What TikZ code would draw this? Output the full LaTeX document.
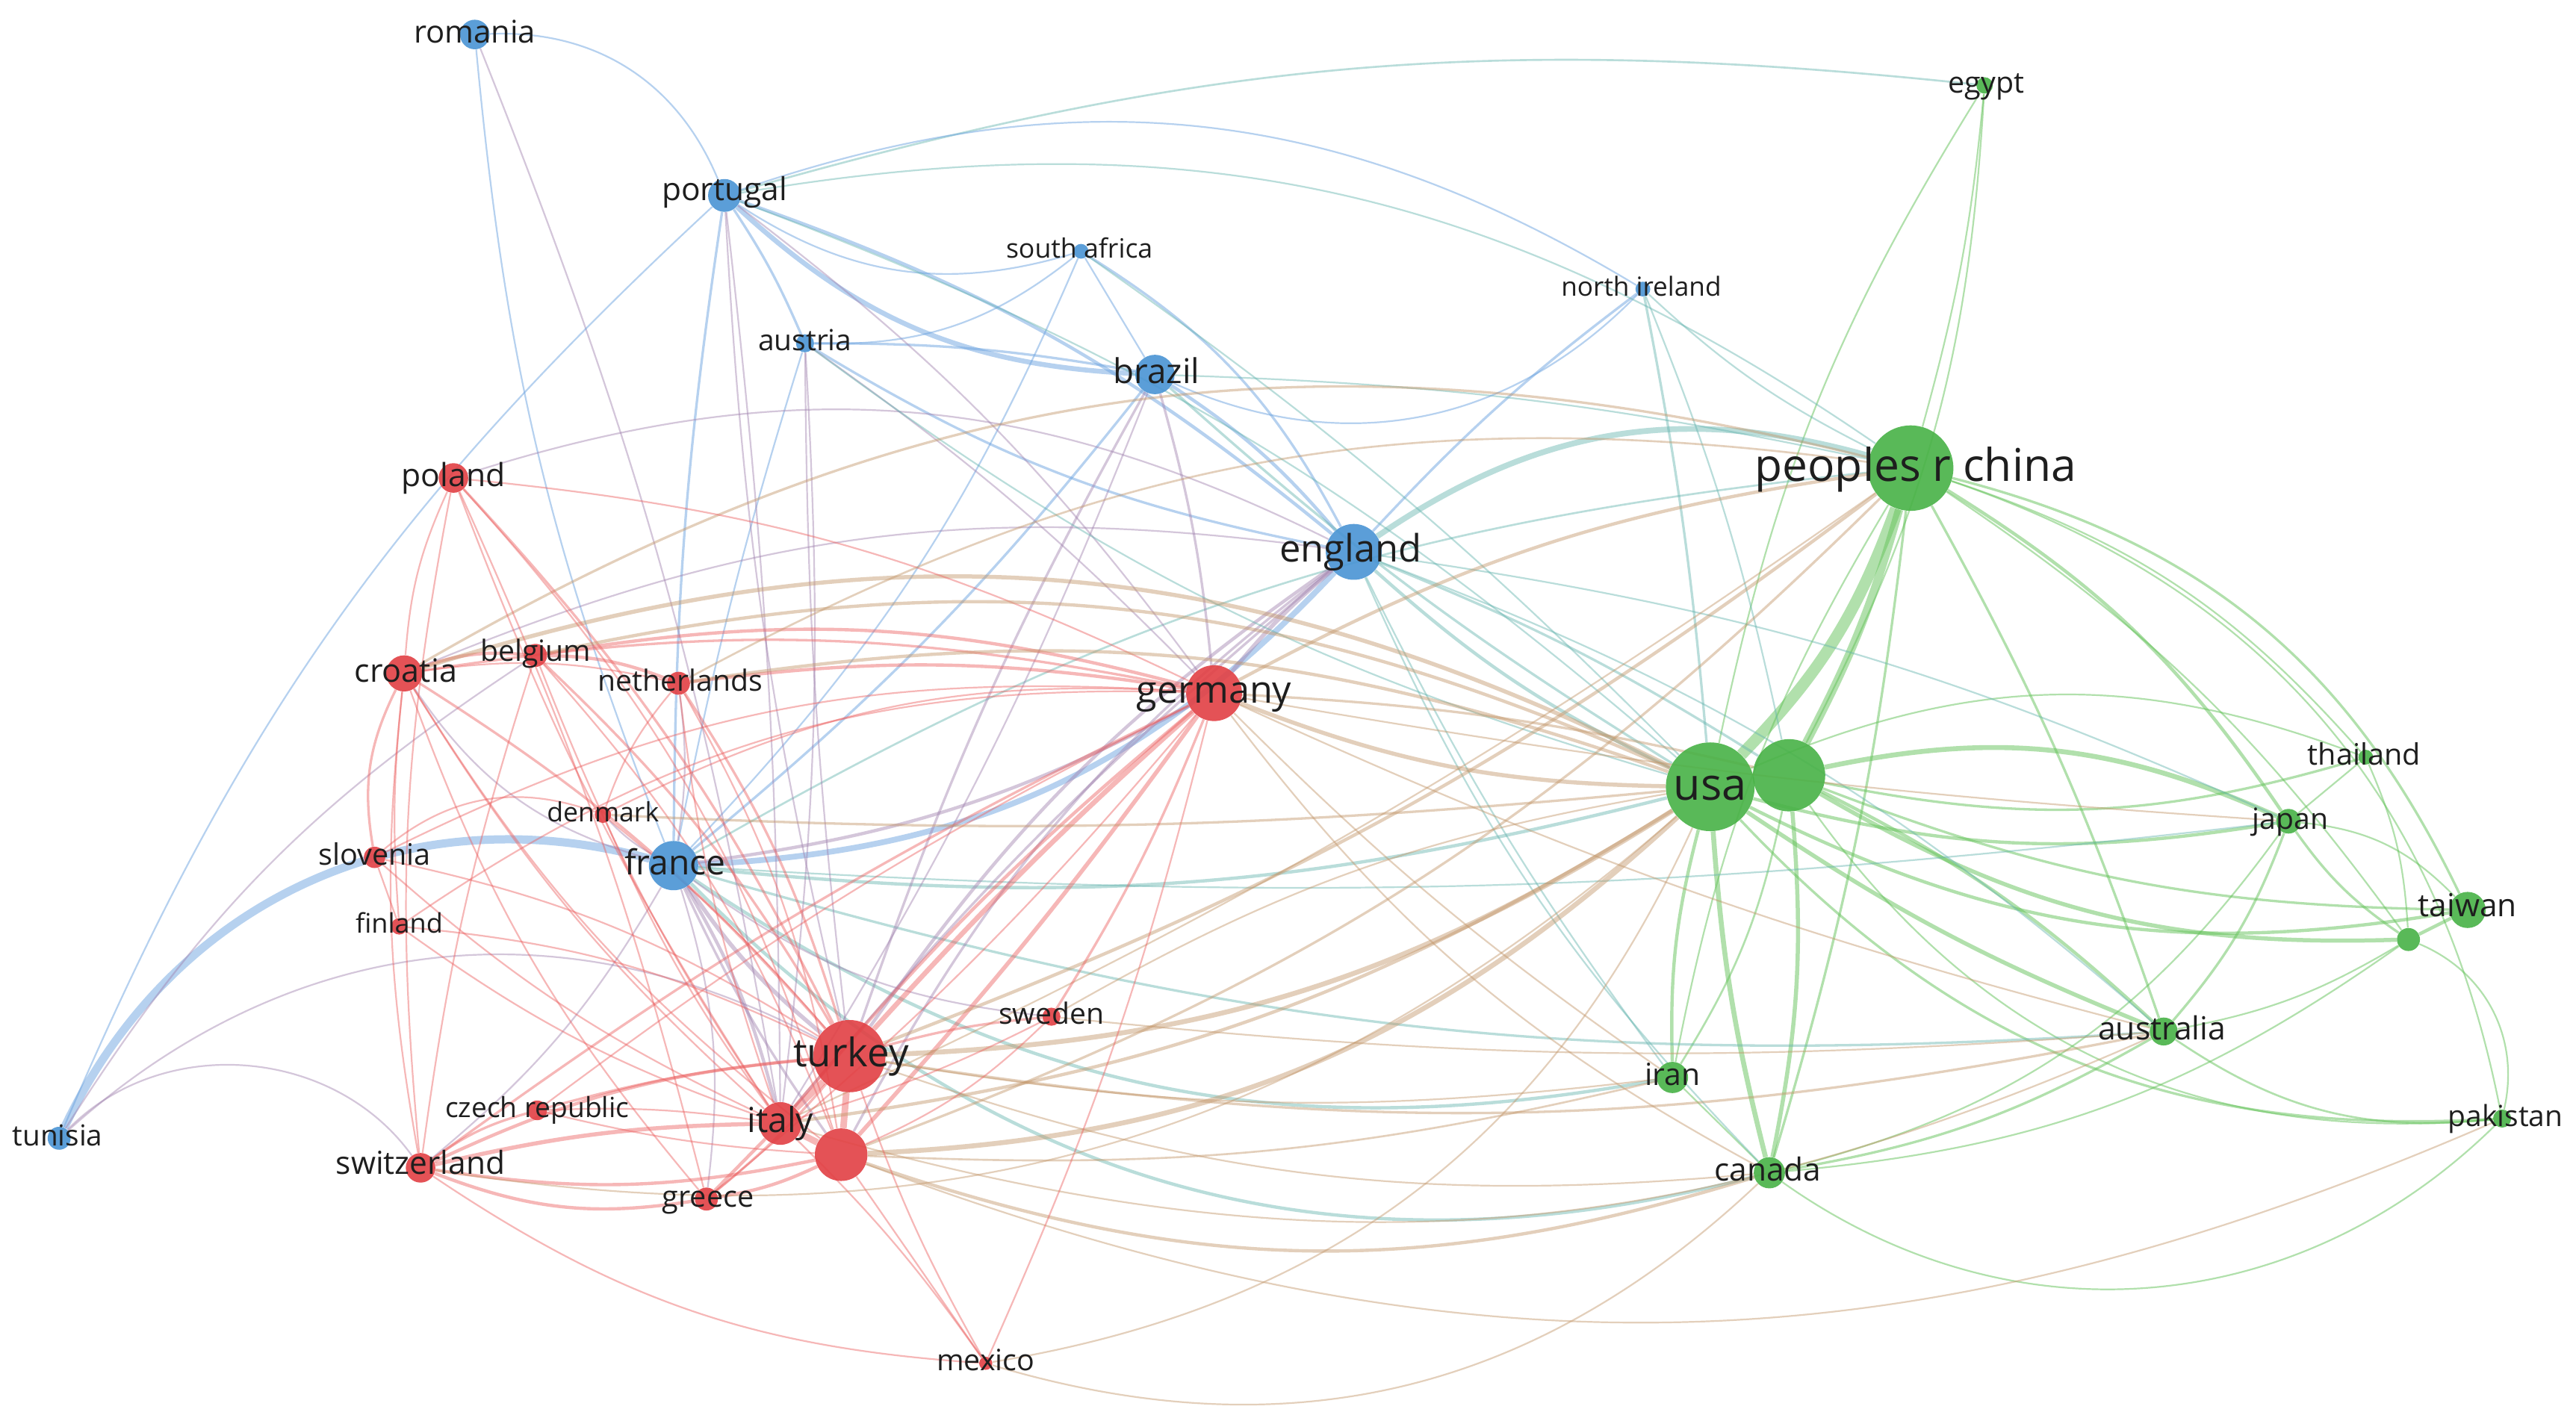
\documentclass[tikz,border=0pt]{standalone}
\usepackage{fontspec}
\setmainfont{Open Sans}
\begin{document}
\pgfdeclarelayer{bg}
\pgfdeclarelayer{paper}
\pgfsetlayers{paper,bg,main}
\definecolor{cR}{RGB}{226,64,68}
\definecolor{cB}{RGB}{74,148,212}
\definecolor{cG}{RGB}{72,178,70}
\definecolor{eR}{RGB}{236,96,96}
\definecolor{eB}{RGB}{110,165,225}
\definecolor{eG}{RGB}{100,195,90}
\definecolor{eRB}{RGB}{160,130,175}
\definecolor{eRG}{RGB}{195,150,105}
\definecolor{eBG}{RGB}{100,180,175}
\definecolor{txt}{RGB}{30,30,30}
\begin{tikzpicture}[x=1pt,y=-1pt,
  nd/.style={circle,inner sep=0pt,fill opacity=0.9,draw=none},
  rn/.style={nd,fill=cR}, bn/.style={nd,fill=cB}, gn/.style={nd,fill=cG},
  lab/.style={font=\fontsize{#1pt}{#1pt}\selectfont,text=txt,inner sep=0pt,
    text height={0.74*#1pt},text depth={0.22*#1pt}},
  er/.style={draw=eR,draw opacity=0.45},
  eb/.style={draw=eB,draw opacity=0.5},
  eg/.style={draw=eG,draw opacity=0.5},
  erb/.style={draw=eRB,draw opacity=0.45},
  erg/.style={draw=eRG,draw opacity=0.45},
  ebg/.style={draw=eBG,draw opacity=0.45}]
\begin{pgfonlayer}{paper}
\fill[white] (0,0) rectangle (1568,865);
\end{pgfonlayer}
\useasboundingbox (0,0) rectangle (1568,865);
% nodes
\node[bn,minimum size=18pt] (romania) at (289,21) {};
\node[bn,minimum size=20pt] (portugal) at (441,119) {};
\node[bn,minimum size=9pt] (southafrica) at (658,153) {};
\node[bn,minimum size=9pt] (northireland) at (1000,176) {};
\node[bn,minimum size=11pt] (austria) at (490,209) {};
\node[bn,minimum size=24pt] (brazil) at (703,228) {};
\node[gn,minimum size=10pt] (egypt) at (1208,52) {};
\node[gn,minimum size=52pt] (china) at (1163,285) {};
\node[bn,minimum size=34pt] (england) at (824,336) {};
\node[rn,minimum size=18pt] (poland) at (276,291) {};
\node[rn,minimum size=22pt] (croatia) at (246,410) {};
\node[rn,minimum size=14pt] (belgium) at (326,399) {};
\node[rn,minimum size=14pt] (netherlands) at (413,416) {};
\node[rn,minimum size=34pt] (germany) at (739,422) {};
\node[gn,minimum size=54pt] (usa) at (1041,479) {};
\node[gn,minimum size=44pt] (g2) at (1089,472) {};
\node[gn,minimum size=9pt] (thailand) at (1440,461) {};
\node[gn,minimum size=15pt] (japan) at (1393,500) {};
\node[gn,minimum size=22pt] (taiwan) at (1502,554) {};
\node[gn,minimum size=14pt] (g3) at (1466,572) {};
\node[gn,minimum size=11pt] (pakistan) at (1523,681) {};
\node[gn,minimum size=17pt] (australia) at (1317,628) {};
\node[gn,minimum size=19pt] (iran) at (1018,656) {};
\node[gn,minimum size=19pt] (canada) at (1077,714) {};
\node[rn,minimum size=10pt] (denmark) at (367,496) {};
\node[rn,minimum size=13pt] (slovenia) at (228,522) {};
\node[bn,minimum size=30pt] (france) at (410,527) {};
\node[rn,minimum size=10pt] (finland) at (243,564) {};
\node[rn,minimum size=11pt] (sweden) at (640,619) {};
\node[rn,minimum size=44pt] (turkey) at (517,643) {};
\node[rn,minimum size=26pt] (italy) at (475,684) {};
\node[rn,minimum size=32pt] (r2) at (512,703) {};
\node[rn,minimum size=12pt] (czech) at (327,676) {};
\node[bn,minimum size=14pt] (tunisia) at (36,693) {};
\node[rn,minimum size=18pt] (switzerland) at (256,711) {};
\node[rn,minimum size=14pt] (greece) at (430,730) {};
\node[rn,minimum size=8pt] (mexico) at (600,830) {};
\begin{pgfonlayer}{bg}
% green
\draw[eg,line width=7pt] (usa) to[bend right=12] (china);
\draw[eg,line width=5pt] (g2) to[bend right=6] (china);
\draw[eg,line width=4pt] (usa) -- (g2);
\draw[eg,line width=3pt] (g2) to[bend left=18] (japan);
\draw[eg,line width=2pt] (usa) to[bend right=12] (japan);
\draw[eg,line width=1.5pt] (g2) to[bend right=14] (thailand);
\draw[eg,line width=1pt] (usa) to[bend left=22] (thailand);
\draw[eg,line width=2.5pt] (g2) to[bend right=16] (g3);
\draw[eg,line width=2pt] (usa) to[bend right=18] (taiwan);
\draw[eg,line width=1.5pt] (g2) to[bend right=10] (taiwan);
\draw[eg,line width=2.5pt] (usa) to[bend right=6] (australia);
\draw[eg,line width=2pt] (g2) to[bend left=8] (australia);
\draw[eg,line width=3pt] (usa) to[bend right=5] (canada);
\draw[eg,line width=2.5pt] (g2) to[bend left=8] (canada);
\draw[eg,line width=2pt] (usa) to[bend right=8] (iran);
\draw[eg,line width=1.2pt] (g2) to[bend left=10] (iran);
\draw[eg,line width=1.5pt] (usa) to[bend right=25] (pakistan);
\draw[eg,line width=1pt] (g2) to[bend right=30] (pakistan);
\draw[eg,line width=2pt] (china) to[bend left=12] (japan);
\draw[eg,line width=1pt] (china) to[bend left=15] (thailand);
\draw[eg,line width=1.5pt] (china) to[bend left=25] (taiwan);
\draw[eg,line width=1pt] (china) to[bend left=10] (g3);
\draw[eg,line width=1.5pt] (china) to[bend left=5] (australia);
\draw[eg,line width=1pt] (china) to[bend left=30] (pakistan);
\draw[eg,line width=1.5pt] (china) to[bend left=5] (canada);
\draw[eg,line width=1pt] (china) to[bend right=10] (iran);
\draw[eg,line width=1pt] (egypt) to[bend right=10] (usa);
\draw[eg,line width=1pt] (egypt) to[bend left=5] (china);
\draw[eg,line width=1pt] (egypt) to[bend left=12] (g2);
\draw[ebg,line width=1.2pt] (egypt) to[bend right=11] (portugal);
\draw[eg,line width=1.5pt] (japan) to[bend left=10] (australia);
\draw[eg,line width=1.5pt] (japan) to[bend right=10] (g3);
\draw[eg,line width=1pt] (japan) to[bend left=20] (taiwan);
\draw[eg,line width=1pt] (thailand) to[bend left=10] (g3);
\draw[eg,line width=1pt] (thailand) -- (japan);
\draw[eg,line width=2pt] (g3) -- (taiwan);
\draw[eg,line width=1pt] (g3) to[bend left=10] (australia);
\draw[eg,line width=1.2pt] (australia) to[bend right=20] (pakistan);
\draw[eg,line width=1pt] (canada) to[bend right=40] (pakistan);
\draw[eg,line width=1.5pt] (canada) to[bend right=10] (australia);
\draw[eg,line width=1pt] (canada) to[bend right=15] (g3);
\draw[eg,line width=1pt] (canada) to[bend right=20] (japan);
\draw[eg,line width=1pt] (iran) -- (canada);
\draw[eg,line width=1pt] (g3) to[bend left=40] (pakistan);
% blue
\draw[eb,line width=5pt] (tunisia) to[bend left=40] (france);
\draw[eb,line width=3.5pt] (france) to[bend right=22] (england);
\draw[eb,line width=1.5pt] (france) to[bend left=4] (portugal);
\draw[eb,line width=1.5pt] (france) to[bend right=6] (brazil);
\draw[eb,line width=1pt] (france) to[bend left=3] (austria);
\draw[eb,line width=1pt] (france) to[bend left=8] (romania);
\draw[eb,line width=1pt] (france) to[bend right=10] (southafrica);
\draw[ebg,line width=2pt] (france) to[bend right=10] (usa);
\draw[ebg,line width=2pt] (france) to[bend right=30] (canada);
\draw[ebg,line width=2pt] (france) to[bend right=22] (iran);
\draw[ebg,line width=1.2pt] (france) to[bend left=12] (china);
\draw[ebg,line width=1.5pt] (france) to[bend right=10] (australia);
\draw[ebg,line width=1pt] (france) to[bend right=5] (japan);
\draw[erb,line width=2pt] (france) to[bend right=10] (germany);
\draw[erb,line width=2.5pt] (france) to[bend right=8] (turkey);
\draw[erb,line width=2pt] (france) to[bend left=8] (italy);
\draw[erb,line width=1.5pt] (france) to[bend right=5] (r2);
\draw[erb,line width=1pt] (france) to[bend left=12] (greece);
\draw[erb,line width=1pt] (france) to[bend left=10] (switzerland);
\draw[erb,line width=1pt] (france) to[bend right=8] (netherlands);
\draw[erb,line width=1pt] (france) to[bend left=8] (denmark);
\draw[erb,line width=1pt] (france) to[bend left=20] (croatia);
\draw[erb,line width=1pt] (france) to[bend right=15] (sweden);
\draw[ebg,line width=3.5pt] (england) to[bend left=25] (china);
\draw[ebg,line width=2pt] (england) to[bend right=8] (usa);
\draw[ebg,line width=1.5pt] (england) to[bend left=5] (g2);
\draw[eb,line width=2pt] (england) to[bend right=8] (brazil);
\draw[eb,line width=2pt] (portugal) to[bend left=10] (england);
\draw[eb,line width=1.5pt] (austria) to[bend right=10] (england);
\draw[eb,line width=1.5pt] (southafrica) to[bend left=15] (england);
\draw[eb,line width=1.5pt] (northireland) to[bend right=5] (england);
\draw[erb,line width=2.5pt] (england) to[bend right=5] (germany);
\draw[erb,line width=2pt] (england) to[bend right=10] (turkey);
\draw[erb,line width=1.5pt] (england) to[bend right=5] (italy);
\draw[erb,line width=1.5pt] (england) to[bend right=12] (r2);
\draw[erb,line width=1pt] (poland) to[bend left=22] (england);
\draw[erb,line width=1pt] (croatia) to[bend left=15] (england);
\draw[ebg,line width=1pt] (england) to[bend left=10] (australia);
\draw[ebg,line width=1pt] (england) to[bend right=10] (canada);
\draw[ebg,line width=1pt] (england) to[bend left=8] (japan);
\draw[ebg,line width=1pt] (england) to[bend right=5] (iran);
\draw[eb,line width=3pt] (portugal) to[bend right=20] (brazil);
\draw[eb,line width=1.5pt] (austria) to[bend left=5] (brazil);
\draw[eb,line width=1pt] (southafrica) -- (brazil);
\draw[ebg,line width=1.5pt] (brazil) to[bend right=5] (usa);
\draw[ebg,line width=1pt] (brazil) to[bend left=5] (china);
\draw[eb,line width=1pt] (brazil) to[bend right=35] (northireland);
\draw[erb,line width=1.5pt] (brazil) to[bend left=5] (germany);
\draw[erb,line width=1.5pt] (brazil) to[bend right=5] (turkey);
\draw[erb,line width=1pt] (brazil) to[bend left=5] (italy);
\draw[eb,line width=1.5pt] (portugal) to[bend left=5] (austria);
\draw[eb,line width=1pt] (portugal) to[bend right=25] (southafrica);
\draw[eb,line width=1pt] (portugal) to[bend left=25] (northireland);
\draw[ebg,line width=1pt] (portugal) to[bend left=22] (china);
\draw[erb,line width=1pt] (portugal) to[bend right=5] (turkey);
\draw[erb,line width=1pt] (portugal) to[bend left=3] (italy);
\draw[erb,line width=1pt] (portugal) to[bend left=8] (germany);
\draw[ebg,line width=1pt] (portugal) to[bend left=10] (usa);
\draw[eb,line width=1pt] (romania) to[bend left=35] (portugal);
\draw[erb,line width=1pt] (romania) to[bend left=6] (italy);
\draw[eb,line width=1pt] (southafrica) to[bend left=20] (austria);
\draw[ebg,line width=1pt] (southafrica) to[bend left=5] (usa);
\draw[ebg,line width=1.5pt] (northireland) to[bend left=3] (usa);
\draw[ebg,line width=1pt] (northireland) to[bend right=8] (china);
\draw[ebg,line width=1pt] (northireland) to[bend left=5] (g2);
\draw[erb,line width=1pt] (austria) to[bend left=5] (germany);
\draw[erb,line width=1pt] (austria) to[bend right=3] (turkey);
\draw[ebg,line width=1pt] (austria) to[bend right=10] (usa);
\draw[erb,line width=1pt] (austria) to[bend left=5] (italy);
\draw[erb,line width=1pt] (tunisia) to[bend left=50] (switzerland);
\draw[erb,line width=1pt] (tunisia) to[bend left=35] (turkey);
\draw[eb,line width=1pt] (tunisia) to[bend left=12] (portugal);
\draw[erb,line width=1pt] (tunisia) to[bend left=12] (belgium);
% red
\draw[er,line width=4pt] (turkey) -- (italy);
\draw[er,line width=4pt] (turkey) -- (r2);
\draw[er,line width=4pt] (italy) -- (r2);
\draw[er,line width=3pt] (turkey) to[bend left=3] (germany);
\draw[er,line width=2.5pt] (r2) to[bend right=3] (germany);
\draw[er,line width=2pt] (italy) to[bend left=5] (germany);
\draw[erg,line width=3pt] (turkey) to[bend right=15] (usa);
\draw[erg,line width=3pt] (r2) to[bend right=20] (usa);
\draw[erg,line width=2pt] (italy) to[bend right=12] (usa);
\draw[erg,line width=2pt] (turkey) to[bend right=8] (china);
\draw[erg,line width=1.5pt] (r2) to[bend right=12] (china);
\draw[erg,line width=2pt] (germany) to[bend left=10] (china);
\draw[erg,line width=2.5pt] (germany) to[bend right=10] (usa);
\draw[erg,line width=1.5pt] (germany) to[bend left=5] (g2);
\draw[erg,line width=1pt] (italy) to[bend right=5] (china);
\draw[erg,line width=2pt] (r2) to[bend right=18] (canada);
\draw[erg,line width=1pt] (turkey) to[bend right=12] (canada);
\draw[erg,line width=1pt] (turkey) to[bend right=8] (iran);
\draw[erg,line width=1.2pt] (r2) to[bend right=8] (iran);
\draw[erg,line width=1.5pt] (turkey) to[bend right=10] (australia);
\draw[erg,line width=1pt] (germany) to[bend right=5] (australia);
\draw[erg,line width=1pt] (germany) to[bend right=3] (japan);
\draw[erg,line width=1pt] (italy) to[bend right=20] (australia);
\draw[erg,line width=1pt] (r2) to[bend right=22] (pakistan);
\draw[erg,line width=1pt] (germany) to[bend right=12] (canada);
\draw[erg,line width=1pt] (germany) to[bend right=5] (iran);
\draw[er,line width=1pt] (mexico) to[bend left=5] (turkey);
\draw[er,line width=1pt] (mexico) to[bend right=5] (italy);
\draw[er,line width=1pt] (mexico) -- (r2);
\draw[er,line width=1pt] (mexico) to[bend right=5] (germany);
\draw[erg,line width=1pt] (mexico) to[bend right=28] (usa);
\draw[erg,line width=1pt] (mexico) to[bend right=30] (canada);
\draw[er,line width=1pt] (mexico) to[bend left=15] (switzerland);
\draw[er,line width=2pt] (greece) -- (italy);
\draw[er,line width=1.5pt] (greece) to[bend right=5] (turkey);
\draw[er,line width=2pt] (greece) to[bend right=8] (r2);
\draw[er,line width=2pt] (switzerland) to[bend right=15] (greece);
\draw[er,line width=1pt] (greece) to[bend right=5] (germany);
\draw[er,line width=1pt] (greece) to[bend left=10] (croatia);
\draw[er,line width=2.5pt] (switzerland) to[bend left=6] (italy);
\draw[er,line width=2pt] (switzerland) to[bend right=10] (r2);
\draw[er,line width=2pt] (switzerland) to[bend left=10] (turkey);
\draw[er,line width=1.5pt] (switzerland) to[bend left=10] (czech);
\draw[er,line width=1.5pt] (switzerland) to[bend left=5] (germany);
\draw[er,line width=1pt] (switzerland) to[bend left=8] (croatia);
\draw[erg,line width=1pt] (switzerland) to[bend right=25] (usa);
\draw[er,line width=1.5pt] (czech) to[bend left=5] (turkey);
\draw[er,line width=1pt] (czech) to[bend left=5] (italy);
\draw[er,line width=1pt] (czech) to[bend right=5] (r2);
\draw[er,line width=1pt] (czech) to[bend left=5] (germany);
\draw[er,line width=2pt] (croatia) to[bend left=12] (belgium);
\draw[er,line width=1.5pt] (croatia) to[bend right=18] (slovenia);
\draw[er,line width=1.5pt] (croatia) to[bend left=8] (turkey);
\draw[er,line width=1pt] (croatia) to[bend right=8] (italy);
\draw[er,line width=1pt] (croatia) to[bend right=10] (r2);
\draw[er,line width=1.5pt] (croatia) to[bend left=10] (germany);
\draw[erg,line width=2.5pt] (croatia) to[bend left=22] (usa);
\draw[erg,line width=1.5pt] (croatia) to[bend left=22] (china);
\draw[er,line width=1pt] (croatia) to[bend right=5] (finland);
\draw[er,line width=1pt] (croatia) to[bend left=10] (netherlands);
\draw[er,line width=1.5pt] (poland) to[bend left=8] (turkey);
\draw[er,line width=1pt] (poland) to[bend right=6] (italy);
\draw[er,line width=1pt] (poland) to[bend left=12] (r2);
\draw[er,line width=1pt] (poland) to[bend right=10] (croatia);
\draw[er,line width=1pt] (poland) to[bend left=10] (germany);
\draw[er,line width=1pt] (poland) to[bend right=8] (switzerland);
\draw[er,line width=1pt] (poland) to[bend left=5] (greece);
\draw[er,line width=2pt] (belgium) to[bend left=10] (netherlands);
\draw[er,line width=2pt] (belgium) to[bend left=12] (germany);
\draw[er,line width=1.5pt] (belgium) to[bend left=8] (turkey);
\draw[er,line width=1pt] (belgium) to[bend right=6] (italy);
\draw[erg,line width=2pt] (belgium) to[bend left=18] (usa);
\draw[er,line width=1pt] (belgium) to[bend left=10] (r2);
\draw[er,line width=1pt] (belgium) to[bend right=5] (switzerland);
\draw[er,line width=2pt] (netherlands) to[bend left=8] (germany);
\draw[er,line width=1.5pt] (netherlands) to[bend left=8] (turkey);
\draw[er,line width=1pt] (netherlands) to[bend right=6] (italy);
\draw[erg,line width=2pt] (netherlands) to[bend left=14] (usa);
\draw[erg,line width=1.2pt] (netherlands) to[bend left=18] (china);
\draw[er,line width=1pt] (netherlands) to[bend left=10] (r2);
\draw[er,line width=1pt] (netherlands) to[bend right=10] (denmark);
\draw[er,line width=1pt] (denmark) to[bend left=5] (turkey);
\draw[er,line width=1pt] (denmark) to[bend left=15] (germany);
\draw[er,line width=1pt] (denmark) to[bend right=6] (italy);
\draw[er,line width=1pt] (denmark) to[bend right=30] (slovenia);
\draw[erg,line width=1.5pt] (denmark) to[bend right=4] (usa);
\draw[er,line width=1pt] (slovenia) -- (finland);
\draw[er,line width=1pt] (slovenia) to[bend left=10] (turkey);
\draw[er,line width=1pt] (slovenia) to[bend right=8] (italy);
\draw[er,line width=1pt] (slovenia) to[bend left=15] (germany);
\draw[er,line width=1pt] (finland) to[bend left=10] (turkey);
\draw[er,line width=1pt] (finland) to[bend right=8] (italy);
\draw[er,line width=1pt] (finland) to[bend left=18] (germany);
\draw[er,line width=1.5pt] (sweden) to[bend right=5] (turkey);
\draw[er,line width=1.5pt] (sweden) to[bend right=5] (germany);
\draw[er,line width=1pt] (sweden) to[bend left=5] (italy);
\draw[er,line width=1pt] (sweden) to[bend left=10] (r2);
\draw[erg,line width=1pt] (sweden) to[bend left=10] (usa);
\draw[erg,line width=1pt] (sweden) to[bend right=5] (australia);
\end{pgfonlayer}
% labels
\node[lab=19] (lromania) at (romania) {romania};
\node[lab=19.3] (lportugal) at (441,117) {portugal};
\node[lab=16.2] (lsouthafrica) at (657,153) {south africa};
\node[lab=16] (lnorthireland) at (999,176) {north ireland};
\node[lab=17.7] (laustria) at (austria) {austria};
\node[lab=20.8] (lbrazil) at (704,228) {brazil};
\node[lab=17.9] (legypt) at (1209,52) {egypt};
\node[lab=27.5] (lchina) at (1166,286) {peoples r china};
\node[lab=23] (lengland) at (822,336) {england};
\node[lab=19.4] (lpoland) at (poland) {poland};
\node[lab=19.6] (lcroatia) at (247,410) {croatia};
\node[lab=17.8] (lbelgium) at (326,398) {belgium};
\node[lab=17.8] (lnetherlands) at (414,416) {netherlands};
\node[lab=22.9] (lgermany) at (germany) {germany};
\node[lab=27] (lusa) at (1041,480) {usa};
\node[lab=18] (lthailand) at (1439,461) {thailand};
\node[lab=17.8] (ljapan) at (1394,500) {japan};
\node[lab=19.3] (ltaiwan) at (1502,553) {taiwan};
\node[lab=17.7] (lpakistan) at (1525,681) {pakistan};
\node[lab=19.4] (laustralia) at (1316,628) {australia};
\node[lab=18.6] (liran) at (iran) {iran};
\node[lab=19.3] (lcanada) at (1076,714) {canada};
\node[lab=16.2] (ldenmark) at (denmark) {denmark};
\node[lab=18] (lslovenia) at (slovenia) {slovenia};
\node[lab=21] (lfrance) at (411,527) {france};
\node[lab=16.4] (lfinland) at (finland) {finland};
\node[lab=17.8] (lsweden) at (sweden) {sweden};
\node[lab=24] (lturkey) at (518,643) {turkey};
\node[lab=21] (litaly) at (italy) {italy};
\node[lab=16.9] (lczech) at (czech) {czech republic};
\node[lab=17.6] (ltunisia) at (35,693) {tunisia};
\node[lab=19.3] (lswitzerland) at (256,710) {switzerland};
\node[lab=18] (lgreece) at (431,730) {greece};
\node[lab=17.9] (lmexico) at (mexico) {mexico};
\end{tikzpicture}
\end{document}
